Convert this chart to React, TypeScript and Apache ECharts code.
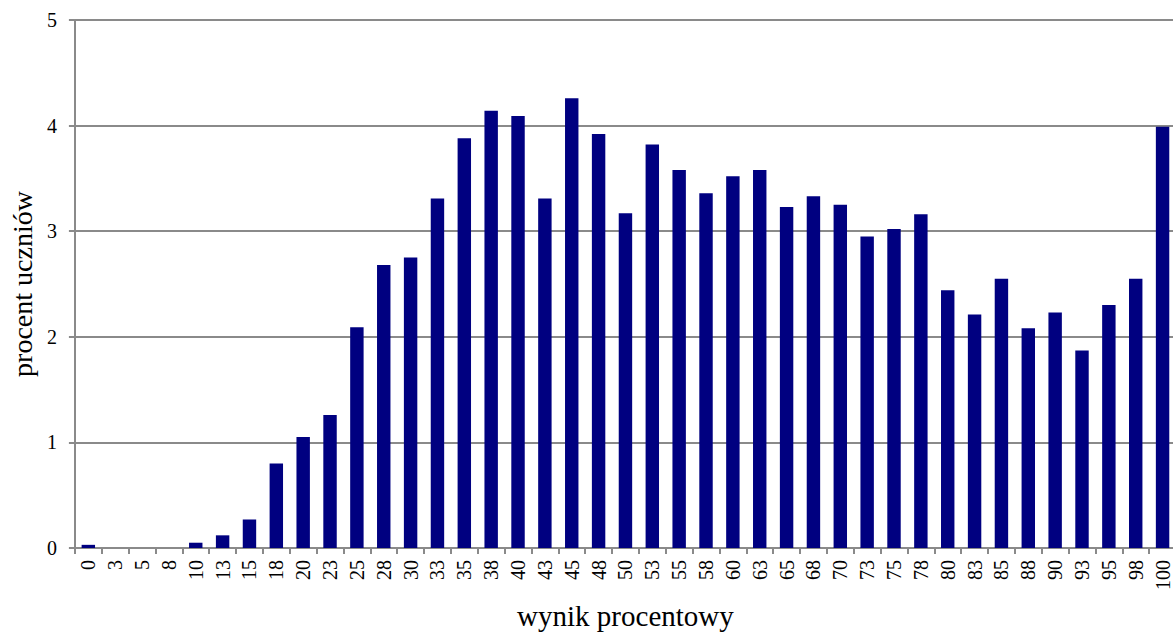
import React, { useEffect, useRef } from "react";
import * as echarts from "echarts";

const categories = [
  "0", "3", "5", "8", "10", "13", "15", "18", "20", "23", "25", "28", "30", "33",
  "35", "38", "40", "43", "45", "48", "50", "53", "55", "58", "60", "63", "65",
  "68", "70", "73", "75", "78", "80", "83", "85", "88", "90", "93", "95", "98", "100",
];

const percentValues = [
  0.03, 0, 0, 0, 0.05, 0.12, 0.27, 0.8, 1.05, 1.26, 2.09, 2.68, 2.75, 3.31,
  3.88, 4.14, 4.09, 3.31, 4.26, 3.92, 3.17, 3.82, 3.58, 3.36, 3.52, 3.58, 3.23,
  3.33, 3.25, 2.95, 3.02, 3.16, 2.44, 2.21, 2.55, 2.08, 2.23, 1.87, 2.3, 2.55, 3.99,
];

const yTicks = { min: 0, max: 5, interval: 1 };

const xAxisName = "wynik procentowy";
const yAxisName = "procent uczniów";

const FONT = "'Liberation Serif', 'Times New Roman', serif";
const AXIS_GRAY = "#8a8a8a";

export default function App() {
  const ref = useRef<HTMLDivElement>(null);

  useEffect(() => {
    if (!ref.current) return;
    const chart = echarts.init(ref.current, undefined, { renderer: "svg" });
    chart.setOption({
      animation: false,
      backgroundColor: "#ffffff",
      textStyle: { fontFamily: FONT, color: "#000" },
      grid: { left: 71, top: 20, width: 1105, height: 531.5, containLabel: false },
      xAxis: {
        type: "category",
        data: categories,
        boundaryGap: true,
        name: xAxisName,
        nameLocation: "middle",
        nameGap: 53,
        nameTextStyle: { fontFamily: FONT, fontSize: 29, color: "#000" },
        axisLine: { show: true, lineStyle: { color: AXIS_GRAY, width: 2 } },
        axisTick: { show: true, length: 6, alignWithLabel: false, interval: 0, lineStyle: { color: AXIS_GRAY, width: 2 } },
        axisLabel: {
          interval: 0,
          rotate: 90,
          margin: 12,
          fontFamily: FONT,
          fontSize: 20,
          color: "#000",
        },
        splitLine: { show: false },
      },
      yAxis: {
        type: "value",
        min: yTicks.min,
        max: yTicks.max,
        interval: yTicks.interval,
        name: yAxisName,
        nameLocation: "middle",
        nameGap: 33,
        nameTextStyle: { fontFamily: FONT, fontSize: 28, color: "#000" },
        axisLine: { show: true, lineStyle: { color: AXIS_GRAY, width: 2 } },
        axisTick: { show: true, length: 6, lineStyle: { color: AXIS_GRAY, width: 2 } },
        axisLabel: { margin: 18, fontFamily: FONT, fontSize: 20, color: "#000" },
        splitLine: { show: true, lineStyle: { color: AXIS_GRAY, width: 2 } },
      },
      series: [
        {
          type: "bar",
          data: percentValues,
          barWidth: "50%",
          itemStyle: { color: "#000080" },
        },
      ],
    });
    return () => chart.dispose();
  }, []);

  return (
    <div
      style={{
        position: "absolute",
        left: 0,
        top: 0,
        width: 1173,
        height: 635,
        overflow: "hidden",
        background: "#fff",
      }}
    >
      <div ref={ref} style={{ width: 1180, height: 635 }} />
    </div>
  );
}
